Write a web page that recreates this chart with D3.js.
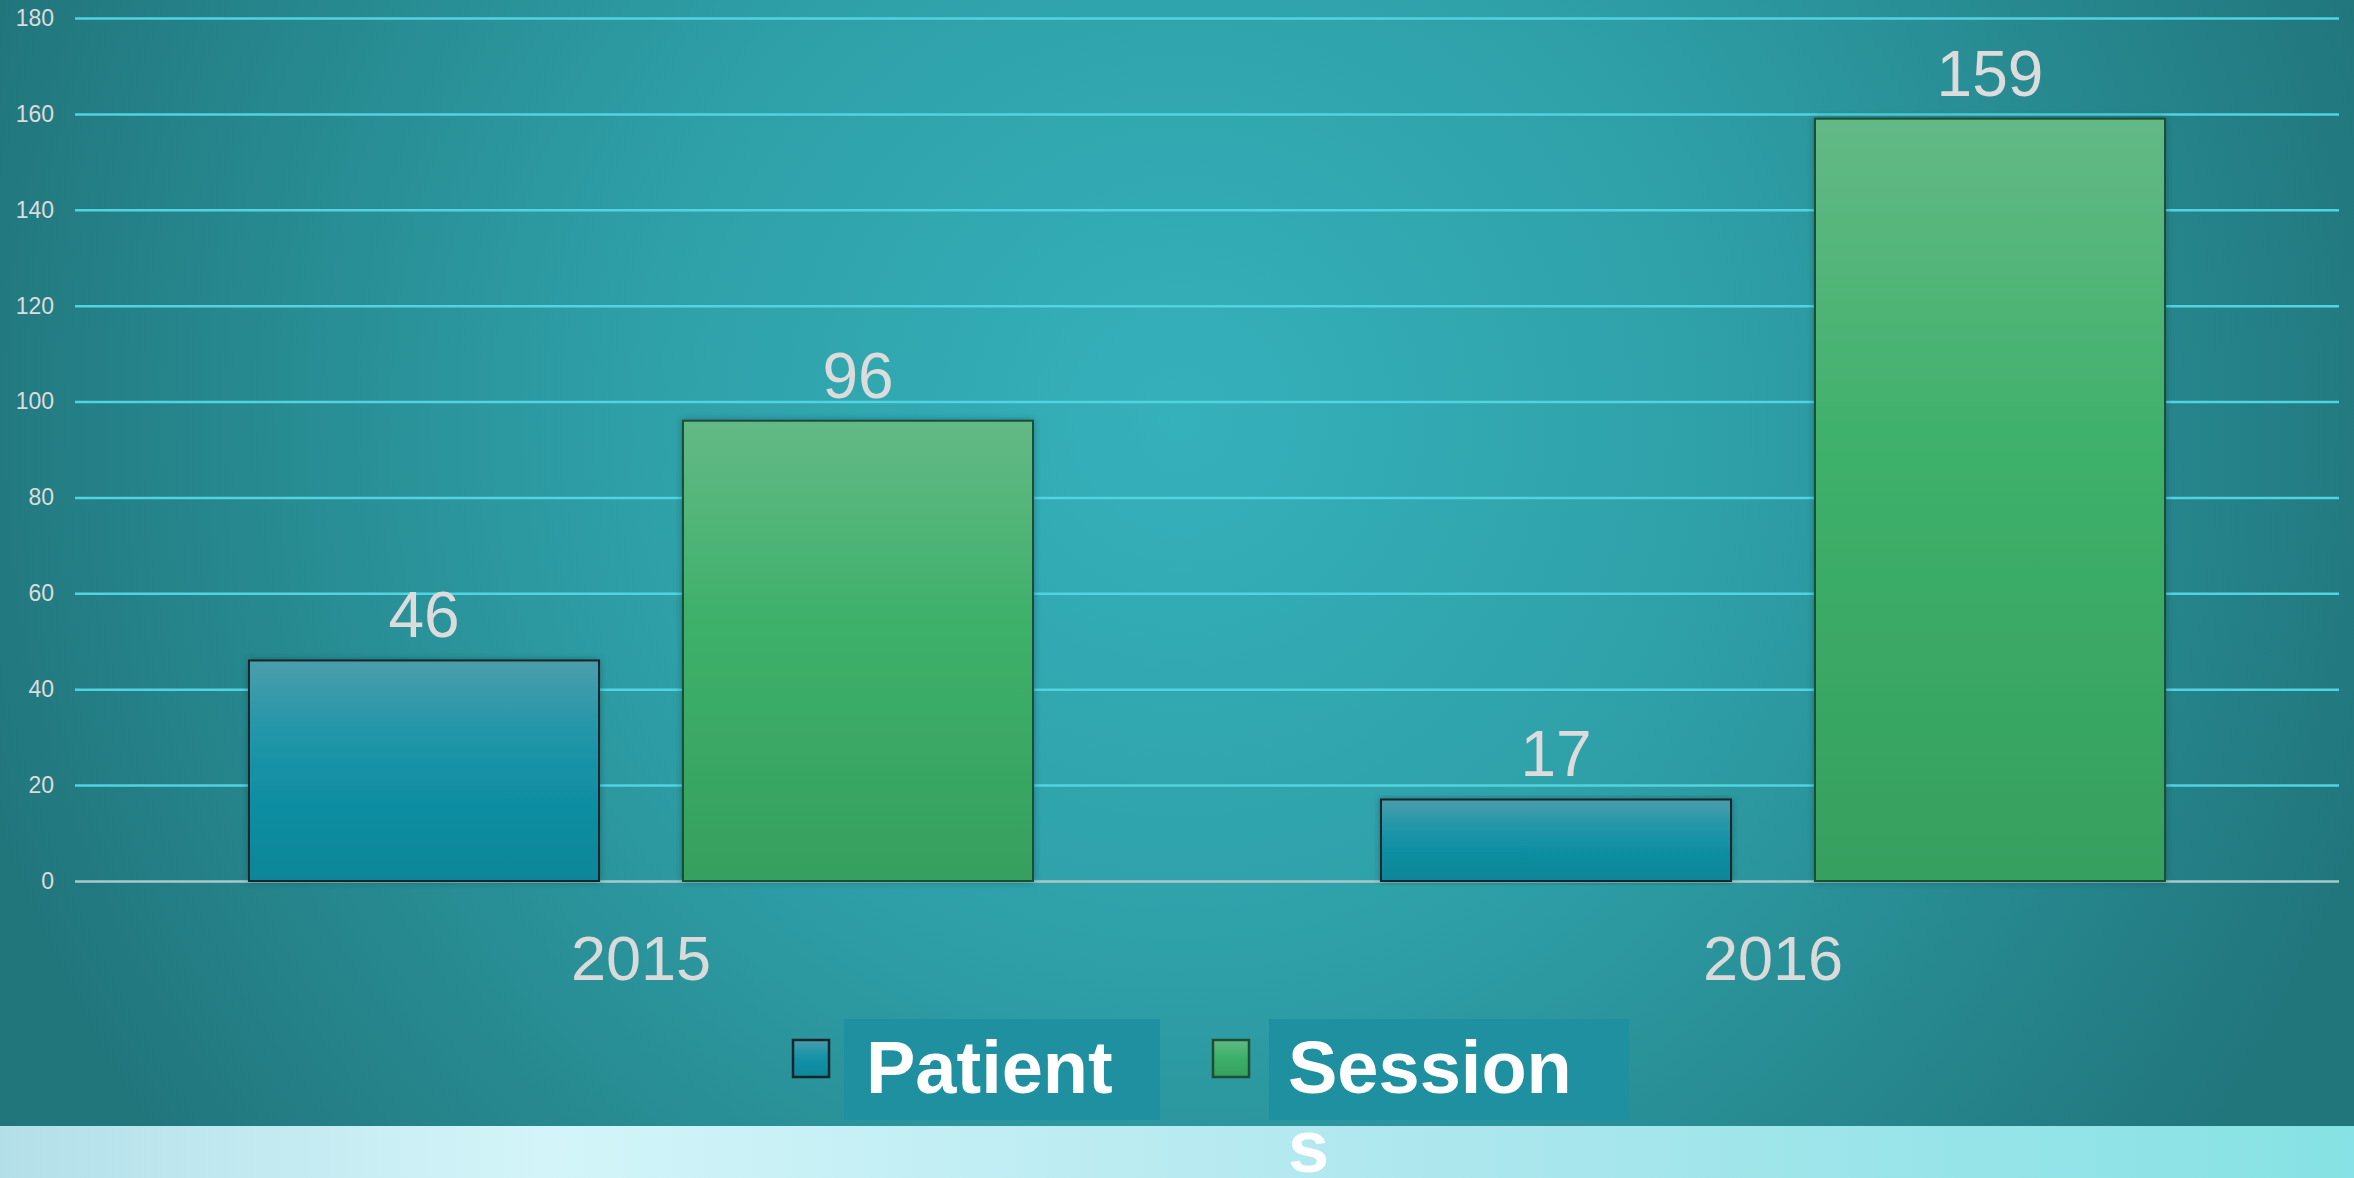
<!DOCTYPE html>
<html>
<head>
<meta charset="utf-8">
<script src="https://cdn.jsdelivr.net/npm/d3@7"></script>
<style>
  html, body { margin: 0; padding: 0; overflow: hidden; }
  body { width: 2354px; height: 1178px; }
</style>
</head>
<body>
<div id="chart"></div>
<script>
// Data
const categories = ["2015", "2016"];
const seriesNames = ["Patient", "Sessions"];
const patientValues = [46, 17];
const sessionValues = [96, 159];
const yTickValues = [0, 20, 40, 60, 80, 100, 120, 140, 160, 180];

const rows = categories.map((c, i) => ({ year: c, values: [patientValues[i], sessionValues[i]] }));

var width = 2354, height = 1178;
var plot = { left: 75, right: 2339, top: 18, bottom: 881 };

const svg = d3.select("#chart").append("svg")
  .attr("width", width)
  .attr("height", height)
  .style("font-family", "'Liberation Sans', Arial, sans-serif");

const defs = svg.append("defs");

// background radial glow
const bg = defs.append("radialGradient")
  .attr("id", "bgGrad")
  .attr("gradientUnits", "userSpaceOnUse")
  .attr("cx", 1180).attr("cy", 420).attr("r", 1250);
bg.append("stop").attr("offset", "0%").attr("stop-color", "#35b1bb");
bg.append("stop").attr("offset", "45%").attr("stop-color", "#2e9fa7");
bg.append("stop").attr("offset", "100%").attr("stop-color", "#21767c");

// bottom light band
const band = defs.append("linearGradient").attr("id", "bandGrad");
band.append("stop").attr("offset", "0%").attr("stop-color", "#b3dfe9");
band.append("stop").attr("offset", "23%").attr("stop-color", "#d3f5f9");
band.append("stop").attr("offset", "60%").attr("stop-color", "#aee7ee");
band.append("stop").attr("offset", "100%").attr("stop-color", "#86e2e4");

// bar fills
const barFills = [
  [["0%", "#4b9dab"], ["30%", "#2597a9"], ["55%", "#1290a5"], ["100%", "#0d8698"]],
  [["0%", "#63b985"], ["45%", "#3db06a"], ["100%", "#36a05f"]]
];
const barStrokes = ["#15272c", "#1f4e34"];
barFills.forEach((stops, i) => {
  const g = defs.append("linearGradient")
    .attr("id", "barGrad" + i)
    .attr("x1", 0).attr("y1", 0).attr("x2", 0).attr("y2", 1);
  stops.forEach(s => g.append("stop").attr("offset", s[0]).attr("stop-color", s[1]));
});

const shadow = defs.append("filter").attr("id", "shadow")
  .attr("x", "-5%").attr("y", "-5%").attr("width", "110%").attr("height", "110%");
shadow.append("feDropShadow")
  .attr("dx", 0).attr("dy", 0).attr("stdDeviation", 3)
  .attr("flood-color", "#0a3a40").attr("flood-opacity", 0.45);

svg.append("rect").attr("width", width).attr("height", height).attr("fill", "url(#bgGrad)");
svg.append("rect").attr("x", 0).attr("y", 1126).attr("width", width).attr("height", height - 1126)
  .attr("fill", "url(#bandGrad)");

// Scales
var x0 = d3.scaleBand()
  .domain(categories)
  .range([plot.left, plot.right])
  .padding(0);

var x1 = d3.scaleBand()
  .domain(seriesNames)
  .range([174, 958])
  .paddingInner(0.1935)
  .paddingOuter(0);

var y = d3.scaleLinear()
  .domain([0, 180])
  .range([plot.bottom, plot.top]);

// Y axis with gridlines
const yAxis = svg.append("g")
  .attr("transform", "translate(" + plot.left + ",0)")
  .call(d3.axisLeft(y).tickValues(yTickValues).tickSize(-(plot.right - plot.left)).tickPadding(21));
yAxis.select(".domain").remove();
yAxis.selectAll(".tick line")
  .attr("stroke", d => d === 0 ? "#a9c9cb" : "#52d3e0")
  .attr("stroke-width", 2.5);
yAxis.selectAll(".tick text")
  .attr("fill", "#dcdcdc")
  .style("font-size", "23px")
  .style("font-family", "'Liberation Sans', Arial, sans-serif");

// X axis labels
const xAxis = svg.append("g")
  .attr("transform", "translate(0," + plot.bottom + ")")
  .call(d3.axisBottom(x0).tickSize(0).tickPadding(0));
xAxis.select(".domain").remove();
xAxis.selectAll(".tick text")
  .attr("dy", null)
  .attr("y", 99)
  .attr("fill", "#dadada")
  .style("font-size", "63px")
  .style("font-family", "'Liberation Sans', Arial, sans-serif");

// Bars
const groups = svg.selectAll(".group")
  .data(rows)
  .enter().append("g")
  .attr("class", "group")
  .attr("transform", d => "translate(" + x0(d.year) + ",0)");

const bars = groups.selectAll(".bar")
  .data(d => d.values.map((v, i) => ({ key: seriesNames[i], idx: i, value: v })))
  .enter();

bars.append("rect")
  .attr("class", "bar")
  .attr("x", d => x1(d.key))
  .attr("y", d => y(d.value))
  .attr("width", x1.bandwidth())
  .attr("height", d => y(0) - y(d.value))
  .attr("fill", d => "url(#barGrad" + d.idx + ")")
  .attr("stroke", d => barStrokes[d.idx])
  .attr("stroke-width", 2)
  .attr("filter", "url(#shadow)");

// value labels
bars.append("text")
  .attr("x", d => x1(d.key) + x1.bandwidth() / 2)
  .attr("y", d => y(d.value) - 23)
  .attr("text-anchor", "middle")
  .attr("fill", "#dcdcdc")
  .style("font-size", "64px")
  .text(d => d.value);

// Legend
const legendItems = [
  { name: "Patient", lines: ["Patient"], sw: 793, box: [844, 1160], tx: 866 },
  { name: "Sessions", lines: ["Session", "s"], sw: 1213, box: [1269, 1629], tx: 1288 }
];

const legend = svg.append("g").attr("class", "legend");
legendItems.forEach((item, i) => {
  legend.append("rect")
    .attr("x", item.box[0]).attr("y", 1019)
    .attr("width", item.box[1] - item.box[0]).attr("height", 101)
    .attr("fill", "#1e90a0");
  legend.append("rect")
    .attr("x", item.sw).attr("y", 1040)
    .attr("width", 36).attr("height", 37)
    .attr("fill", "url(#barGrad" + i + ")")
    .attr("stroke", barStrokes[i])
    .attr("stroke-width", 2.5);
  const t = legend.append("text")
    .attr("x", item.tx).attr("y", 1093)
    .attr("fill", "#ffffff")
    .style("font-size", "74px")
    .style("font-weight", "bold");
  item.lines.forEach((ln, j) => {
    t.append("tspan").attr("x", item.tx).attr("dy", j === 0 ? 0 : 79).text(ln);
  });
});
</script>
</body>
</html>
